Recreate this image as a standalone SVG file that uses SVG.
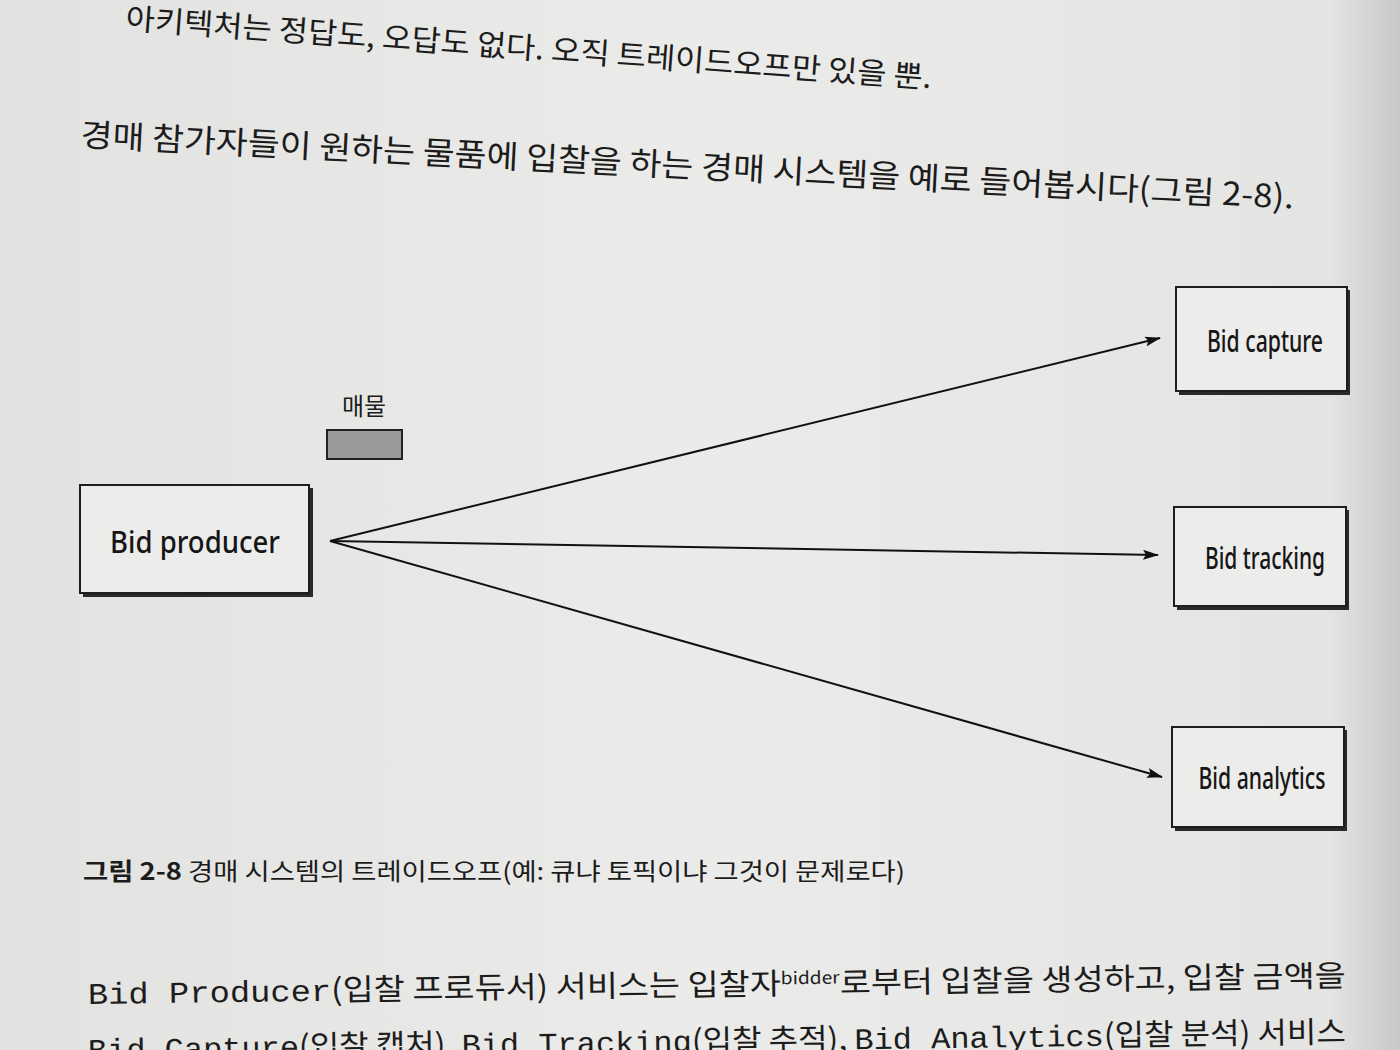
<svg xmlns="http://www.w3.org/2000/svg" width="1400" height="1050" viewBox="0 0 1400 1050">
<style>
.kr{font-family:"Noto Sans CJK KR","Noto Sans",sans-serif;fill:#1c1c1c}
.lbl{font-family:"Noto Sans","Noto Sans CJK KR",sans-serif;fill:#161616;font-size:30px;font-weight:500}
.box{fill:#ececea;stroke:#1e1e1e;stroke-width:2}
.sh{fill:#2a2a2a}
.edge{stroke:#111;stroke-width:2;fill:none;marker-end:url(#ah)}
.mono{font-family:"Liberation Mono","DejaVu Sans Mono",monospace}
</style>
<defs>
<linearGradient id="pg" x1="0" y1="0" x2="1" y2="0">
<stop offset="0" stop-color="#e2e2e0"/>
<stop offset="0.5" stop-color="#ebebe9"/>
<stop offset="0.95" stop-color="#e4e4e2"/>
<stop offset="1" stop-color="#c8c8c6"/>
</linearGradient>
<marker id="ah" markerWidth="16" markerHeight="10" refX="15" refY="5" orient="auto" markerUnits="userSpaceOnUse">
<path d="M0,0 L16,5 L0,10 L3,5 Z" fill="#111"/>
</marker>
</defs>
<rect width="1400" height="1050" fill="url(#pg)"/>

<g id="page-text">
<text class="kr" x="125" y="29" font-size="30" textLength="808" lengthAdjust="spacingAndGlyphs" transform="rotate(4.2 125 29)">아키텍처는 정답도, 오답도 없다. 오직 트레이드오프만 있을 뿐.</text>
<text class="kr" x="80" y="146" font-size="32" textLength="1215" lengthAdjust="spacingAndGlyphs" transform="rotate(2.95 80 146)">경매 참가자들이 원하는 물품에 입찰을 하는 경매 시스템을 예로 들어봅시다(그림 2-8).</text>
</g>

<g id="connectors">
<line class="edge" x1="330" y1="541" x2="1160" y2="338"/>
<line class="edge" x1="330" y1="541" x2="1158" y2="555"/>
<line class="edge" x1="330" y1="541" x2="1162" y2="777"/>
</g>

<g id="item">
<text class="kr" x="364" y="415" font-size="24" text-anchor="middle">매물</text>
<rect x="327" y="430" width="75" height="29" fill="#9a9a9a" stroke="#222" stroke-width="2"/>
</g>

<g id="bid-producer">
<rect class="sh" x="83" y="488" width="230" height="109"/>
<rect class="box" x="80" y="485" width="229" height="108"/>
<text class="lbl" x="195" y="553" text-anchor="middle" textLength="170" lengthAdjust="spacingAndGlyphs">Bid producer</text>
</g>

<g id="bid-capture">
<rect class="sh" x="1179" y="290" width="171" height="105"/>
<rect class="box" x="1176" y="287" width="171" height="104"/>
<text class="lbl" x="1265" y="352" text-anchor="middle" textLength="116" lengthAdjust="spacingAndGlyphs">Bid capture</text>
</g>

<g id="bid-tracking">
<rect class="sh" x="1177" y="510" width="172" height="100"/>
<rect class="box" x="1174" y="507" width="172" height="99"/>
<text class="lbl" x="1265" y="569" text-anchor="middle" textLength="120" lengthAdjust="spacingAndGlyphs">Bid tracking</text>
</g>

<g id="bid-analytics">
<rect class="sh" x="1175" y="730" width="172" height="101"/>
<rect class="box" x="1172" y="727" width="172" height="100"/>
<text class="lbl" x="1262" y="789" text-anchor="middle" textLength="127" lengthAdjust="spacingAndGlyphs">Bid analytics</text>
</g>

<g id="caption">
<text class="kr" x="83" y="880" font-size="24" textLength="822" lengthAdjust="spacingAndGlyphs"><tspan font-weight="bold">그림 2-8</tspan> 경매 시스템의 트레이드오프(예: 큐냐 토픽이냐 그것이 문제로다)</text>
</g>

<g id="body-text">
<text class="kr" x="88" y="1004" font-size="30" textLength="1258" lengthAdjust="spacingAndGlyphs" transform="rotate(-0.8 88 1004)"><tspan class="mono">Bid Producer</tspan>(입찰 프로듀서) 서비스는 입찰자<tspan font-size="17" dy="-10">bidder</tspan><tspan dy="10">로부터 입찰을 생성하고, 입찰 금액을</tspan></text>
<text class="kr" x="88" y="1060" font-size="30" textLength="1258" lengthAdjust="spacingAndGlyphs" transform="rotate(-0.8 88 1060)"><tspan class="mono">Bid Capture</tspan>(입찰 캡처), <tspan class="mono">Bid Tracking</tspan>(입찰 추적), <tspan class="mono">Bid Analytics</tspan>(입찰 분석) 서비스</text>
</g>
</svg>
